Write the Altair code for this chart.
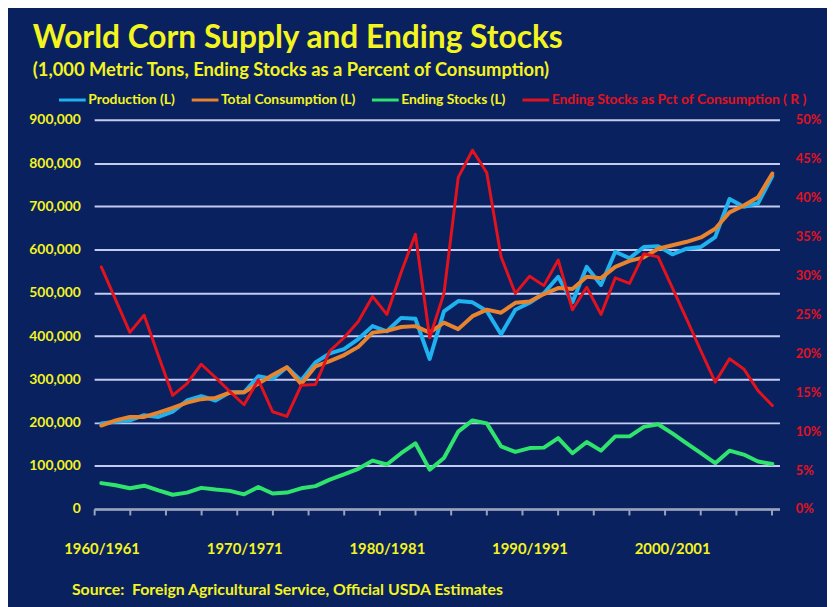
import altair as alt
import pandas as pd
import numpy as np

# ---------------- data ----------------
years = list(range(1960, 2008))

# thousand metric tons
production = [198, 202, 205, 217, 213, 225, 251, 261, 251, 270,
              270, 307, 301, 328, 297, 339, 360, 370, 393, 423,
              411, 442, 440, 347, 457, 481, 478, 458, 404, 461,
              477, 499, 537, 478, 560, 518, 595, 580, 606, 608,
              589, 602, 606, 629, 717, 699, 707, 770]
consumption = [193, 205, 213, 213, 223, 234, 246, 254, 257, 269,
               270, 290, 310, 328, 289, 330, 342, 356, 375, 408,
               412, 421, 423, 408, 431, 416, 446, 461, 454, 477,
               480, 497, 511, 509, 537, 534, 560, 574, 582, 602,
               610, 618, 628, 648, 686, 702, 721, 776]
ending_stocks = [60, 55, 48, 54, 43, 33, 38, 49, 45, 42,
                 34, 51, 36, 38, 48, 53, 68, 80, 93, 112,
                 103, 129, 152, 91, 118, 179, 205, 198, 145, 132,
                 141, 142, 164, 129, 155, 135, 168, 168, 190, 196,
                 175, 152, 129, 106, 135, 126, 110, 104]
# percent of consumption
stocks_pct = [31.1, 26.9, 22.7, 24.9, 19.7, 14.6, 16.1, 18.6, 16.9, 15.1,
              13.4, 16.6, 12.5, 11.9, 15.9, 16.0, 20.3, 22.0, 24.1, 27.3,
              25.0, 30.4, 35.3, 22.0, 27.7, 42.6, 46.1, 43.2, 32.4, 27.7,
              29.9, 28.7, 32.0, 25.6, 28.5, 25.0, 29.7, 29.0, 32.8, 32.4,
              28.4, 24.4, 20.3, 16.3, 19.3, 18.0, 15.2, 13.3]

series_names = ["Production (L)", "Total Consumption (L)",
                "Ending Stocks (L)", "Ending Stocks as Pct of Consumption ( R )"]
series_colors = ["#1fb2ee", "#e8832e", "#2fe46c", "#e3121c"]

left_ticks = [0, 100000, 200000, 300000, 400000, 500000, 600000, 700000, 800000, 900000]
right_ticks = [0, 0.05, 0.10, 0.15, 0.20, 0.25, 0.30, 0.35, 0.40, 0.45, 0.50]
x_tick_values = [1959.5, 1962.0, 1964.49, 1966.99, 1969.49, 1971.99, 1974.48,
                 1976.98, 1979.48, 1981.98, 1984.47, 1986.97, 1989.47, 1991.97,
                 1994.46, 1996.96, 1999.46, 2001.96, 2004.45, 2006.95]

df = pd.DataFrame({
    "year": years,
    "prod": [v * 1000 for v in production],
    "cons": [v * 1000 for v in consumption],
    "stocks": [v * 1000 for v in ending_stocks],
    "pct": [v / 100 for v in stocks_pct],
})

BG = "#0a2160"
YELLOW = "#f4f41e"
RED = "#e3121c"
FONT = "Lato"

color_scale = alt.Scale(domain=series_names, range=series_colors)

legend = alt.Legend(
    orient="none", legendX=-37, legendY=-35, direction="horizontal", title=None,
    symbolType="stroke", symbolSize=729, symbolStrokeWidth=3,
    labelFont=FONT, labelFontSize=14, labelFontWeight="bold",
    labelColor=alt.ExprRef(
        "datum.value == 'Ending Stocks as Pct of Consumption ( R )' ? '#e3121c' : '#f4f41e'"),
    columnPadding=10, labelOffset=1, labelLimit=400,
)

x_enc = alt.X(
    "year:Q",
    scale=alt.Scale(domain=[1959.5, 2007.5], nice=False, zero=False),
    axis=alt.Axis(
        values=x_tick_values,
        labelExpr="abs(datum.value - round(datum.value/10)*10) < 0.8 ? "
                  "(round(datum.value/10)*10) + '/' + (round(datum.value/10)*10 + 1) : ''",
        labelOffset=7.5, labelFlush=False, labelOverlap=False, labelBound=False,
        labelColor=YELLOW, labelFont=FONT, labelFontSize=15, labelFontWeight="bold",
        labelPadding=27,
        tickColor="#9aa3b8", tickSize=6, tickWidth=2,
        domainColor="#9aa3b8", domainWidth=2, grid=False,
        title="Source:\u00a0 Foreign Agricultural Service, Official USDA Estimates",
        titleX=-23, titleY=86, titleAlign="left", titleBaseline="alphabetic",
        titleColor=YELLOW, titleFont=FONT, titleFontSize=16, titleFontWeight="bold",
    ),
)

left_axis = alt.Axis(
    values=left_ticks, format=",d", labelColor=YELLOW, labelFont=FONT,
    labelFontSize=14, labelFontWeight="bold", labelPadding=14,
    ticks=False, domain=False, grid=True, gridColor="#c3cbef", gridWidth=2,
    title=None,
)
left_scale = alt.Scale(domain=[0, 900000], nice=False)

base = alt.Chart(df)
color_enc = alt.Color("series:N", scale=color_scale, legend=legend)


def left_line(field, name):
    return base.transform_calculate(series=f"'{name}'").mark_line(
        strokeWidth=4, strokeJoin="round", strokeCap="round").encode(
        x=x_enc,
        y=alt.Y(f"{field}:Q", scale=left_scale, axis=left_axis, title=None),
        color=color_enc,
    )


left = alt.layer(
    left_line("prod", series_names[0]),
    left_line("cons", series_names[1]),
    left_line("stocks", series_names[2]),
)

right = base.transform_calculate(series=f"'{series_names[3]}'").mark_line(
    strokeWidth=3, strokeJoin="round", strokeCap="round").encode(
    x=x_enc,
    y=alt.Y("pct:Q", scale=alt.Scale(domain=[0, 0.5], nice=False),
            axis=alt.Axis(orient="right", values=right_ticks, format=".0%",
                          labelColor=RED, labelFont=FONT, labelFontSize=13,
                          labelFontWeight="bold", labelPadding=16,
                          ticks=False, domain=False, grid=False, title=None)),
    color=color_enc,
)

chart = alt.layer(left, right).resolve_scale(y="independent").properties(
    width=692, height=393,
    padding={"left": 87, "top": 110, "right": 48, "bottom": 96},
    autosize=alt.AutoSizeParams(type="none"),
    title=alt.TitleParams(
        text="World Corn Supply and Ending Stocks",
        subtitle="(1,000 Metric Tons, Ending Stocks as a Percent of Consumption)",
        anchor="start", frame="group", dx=-62, offset=5,
        font=FONT, fontSize=32, fontWeight="bold", color=YELLOW,
        subtitleFont=FONT, subtitleFontSize=18.5, subtitleFontWeight="bold",
        subtitleColor=YELLOW, subtitlePadding=6,
    ),
).configure(background=BG).configure_view(stroke=None)

chart.save("out.html", embed_options={"renderer": "svg", "actions": False})
